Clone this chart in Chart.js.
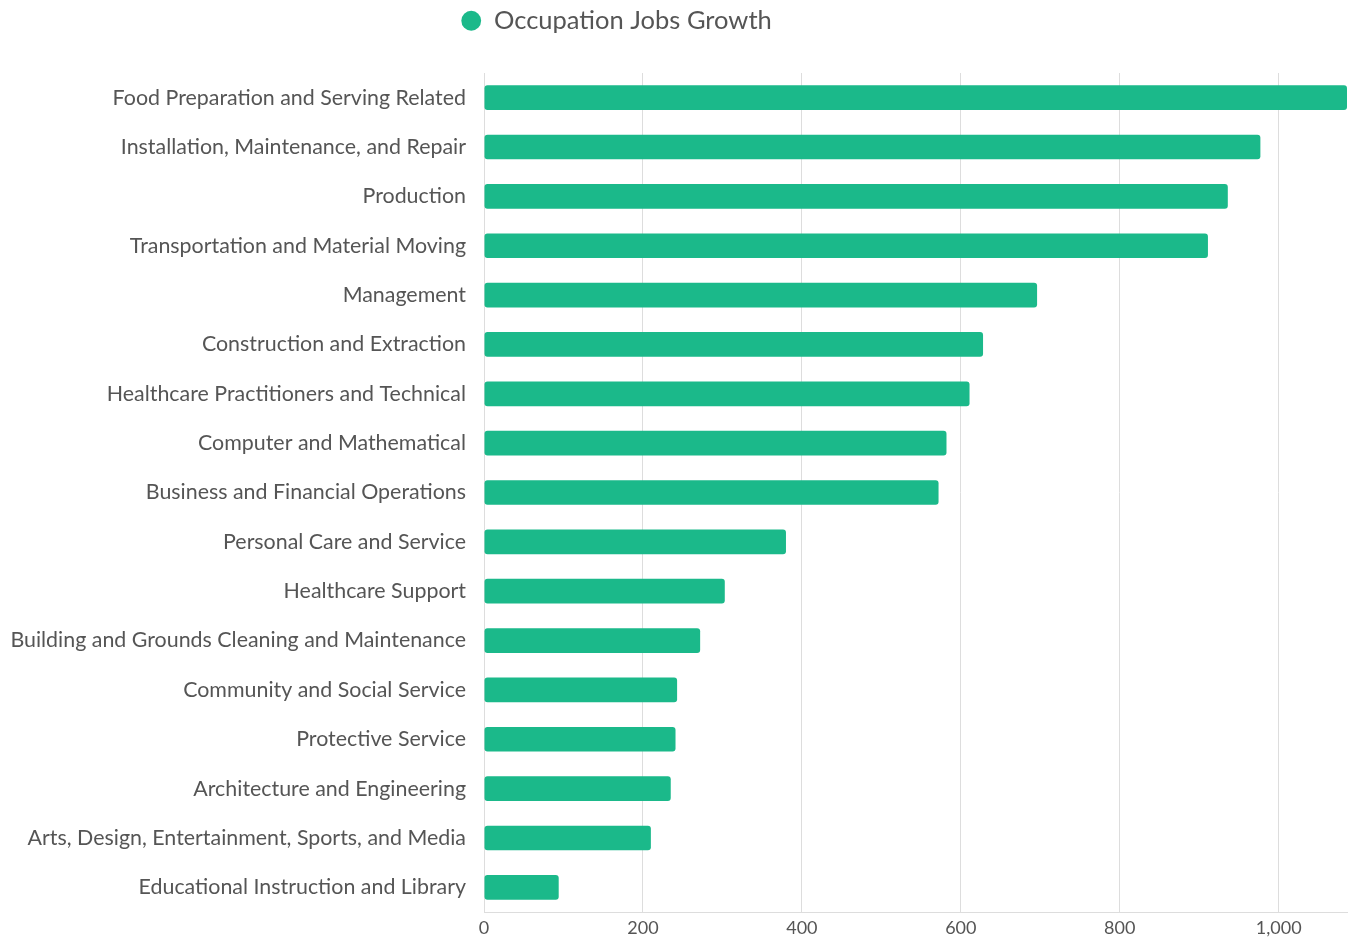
<!DOCTYPE html>
<html>
<head>
<meta charset="utf-8">
<script src="https://cdn.jsdelivr.net/npm/chart.js@4"></script>
<style>
  html, body { margin: 0; padding: 0; background: #fff; }
  #wrap { width: 1355px; height: 941px; }
</style>
</head>
<body>
<div id="wrap"><canvas id="occChart"></canvas></div>
<script>
const occupaciones = [
  "Food Preparation and Serving Related",
  "Installation, Maintenance, and Repair",
  "Production",
  "Transportation and Material Moving",
  "Management",
  "Construction and Extraction",
  "Healthcare Practitioners and Technical",
  "Computer and Mathematical",
  "Business and Financial Operations",
  "Personal Care and Service",
  "Healthcare Support",
  "Building and Grounds Cleaning and Maintenance",
  "Community and Social Service",
  "Protective Service",
  "Architecture and Engineering",
  "Arts, Design, Entertainment, Sports, and Media",
  "Educational Instruction and Library"
];
const crecimiento = [1086, 977, 936, 911, 696, 628, 611, 582, 572, 380, 303, 272, 243, 241, 235, 210, 94];
const ejeMax = 1086;

const verde = '#1bb98a';
const gris = '#555555';
const lineaGris = '#dddddd';

Chart.defaults.font.family = 'Lato, sans-serif';

// ajusta la leyenda: mas espacio debajo y un poco corrida a la izquierda
const ajusteLeyenda = {
  id: 'ajusteLeyenda',
  beforeInit(chart) {
    const legend = chart.legend;
    const fitOriginal = legend.fit;
    legend.fit = function () {
      fitOriginal.call(this);
      this.height = 73;
    };
  },
  afterLayout(chart) {
    chart.legend.left -= 57;
    chart.legend.right -= 57;
  }
};

const ctx = document.getElementById('occChart');
const myChart = new Chart(ctx, {
  type: 'bar',
  data: {
    labels: occupaciones,
    datasets: [{
      label: 'Occupation Jobs Growth',
      data: crecimiento,
      backgroundColor: verde,
      borderRadius: 3,
      borderSkipped: false,
      barPercentage: 0.5,
      categoryPercentage: 1
    }]
  },
  options: {
    indexAxis: 'y',
    responsive: true,
    maintainAspectRatio: false,
    animation: false,
    layout: { padding: { left: 0, right: 8, top: 0, bottom: 0 } },
    plugins: {
      legend: {
        labels: {
          usePointStyle: true,
          pointStyle: 'circle',
          color: gris,
          font: { size: 25.5 },
          boxWidth: 20,
          boxHeight: 14,
          padding: 8
        }
      },
      tooltip: { enabled: false }
    },
    scales: {
      x: {
        min: 0,
        max: ejeMax,
        afterFit: (scale) => { scale.height = 29; },
        grid: { color: lineaGris, drawTicks: false },
        border: { color: lineaGris },
        ticks: {
          stepSize: 200,
          includeBounds: false,
          color: gris,
          font: { size: 18 },
          padding: 5
        }
      },
      y: {
        afterFit: (scale) => {
          scale.width = 484;
          scale.paddingTop = 0;
          scale.paddingBottom = 0;
        },
        grid: { display: false, drawTicks: false },
        border: { display: true, color: lineaGris },
        ticks: {
          color: gris,
          font: { size: 21.4 },
          padding: 18
        }
      }
    }
  },
  plugins: [ajusteLeyenda]
});
</script>
</body>
</html>
